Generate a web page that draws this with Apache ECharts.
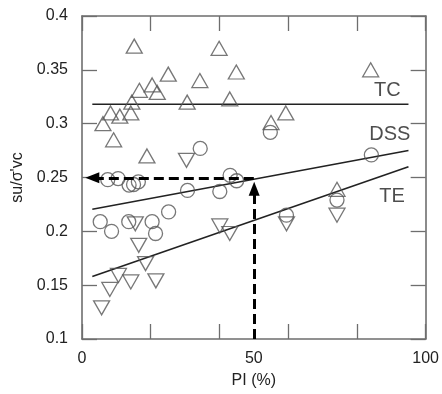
<!DOCTYPE html>
<html>
<head>
<meta charset="utf-8">
<script src="https://cdn.jsdelivr.net/npm/echarts@6/dist/echarts.min.js"></script>
<style>html,body{margin:0;padding:0;background:#fff}#c{width:442px;height:394px}</style>
</head>
<body>
<div id="c"></div>
<script>
// ---- data ----
var tcPoints = [[15.2,0.372],[39.9,0.370],[25.1,0.346],[44.9,0.348],[84.0,0.350],[34.3,0.340],[20.4,0.336],[16.7,0.331],[21.9,0.329],[14.5,0.320],[30.6,0.320],[43.0,0.323],[8.3,0.310],[11.0,0.307],[14.2,0.310],[59.3,0.310],[6.1,0.300],[55.0,0.301],[9.2,0.285],[18.9,0.270],[74.2,0.239]];
var dssPoints = [[7.5,0.248],[10.5,0.249],[13.7,0.243],[15.0,0.2435],[16.4,0.246],[5.3,0.209],[8.6,0.200],[13.6,0.209],[20.4,0.209],[21.4,0.198],[25.2,0.218],[30.7,0.238],[34.4,0.277],[40.1,0.237],[43.1,0.252],[45.0,0.247],[54.8,0.292],[59.5,0.215],[74.2,0.229],[84.2,0.271]];
var tePoints = [[5.7,0.129],[8.1,0.146],[10.6,0.159],[14.2,0.153],[21.5,0.154],[18.5,0.170],[16.5,0.187],[15.5,0.207],[30.4,0.266],[40.1,0.205],[43.0,0.198],[59.5,0.207],[74.2,0.215]];
var tcFit = [[3,0.318],[95,0.318]];
var dssFit = [[3,0.2205],[95,0.275]];
var teFit = [[3,0.158],[95,0.260]];
var curveNames = ['TC','DSS','TE'];
var curveLabelPos = [[85.0,0.331],[83.6,0.2896],[86.5,0.2325]];
var arrowH = [[50,0.2497],[3.0,0.2497]];
var arrowV = [[50.1,0.1],[50.1,0.2395]];
var xTicks = [0,50,100];
var yMin = 0.1, yMax = 0.4, yStep = 0.05;
var xMin = 0, xMax = 100;

var chart = echarts.init(document.getElementById('c'));
var axisGray = '#6e6e6e';
var txt = '#222';
var font = 'Liberation Sans, Arial, sans-serif';
var markerStyle = {color:'rgba(0,0,0,0)', borderColor:'#555', borderWidth:1.3};
var fitStyle = {color:'#222', width:1.6};

chart.setOption({
  animation:false,
  grid:{left:82,right:12,top:16,bottom:52},
  xAxis:[
    {type:'value',position:'bottom',min:xMin,max:xMax,interval:20,
     axisLine:{show:true,onZero:false,lineStyle:{color:axisGray,width:1.6}},
     axisTick:{show:true,inside:true,length:15,lineStyle:{color:axisGray,width:1.3}},
     axisLabel:{show:false},splitLine:{show:false}},
    {type:'value',position:'bottom',min:xMin,max:xMax,interval:50,
     axisLine:{show:false},axisTick:{show:false},splitLine:{show:false},
     axisLabel:{show:true,margin:12,fontSize:16,color:txt,fontFamily:font,
       formatter:function(v){return xTicks.indexOf(v)>=0?String(v):'';}},
     name:'PI (%)',nameLocation:'middle',nameGap:34,
     nameTextStyle:{fontSize:16,color:txt,fontFamily:font}},
    {type:'value',position:'top',min:xMin,max:xMax,interval:20,
     axisLine:{show:true,onZero:false,lineStyle:{color:axisGray,width:1.6}},
     axisTick:{show:true,inside:true,length:15,lineStyle:{color:axisGray,width:1.3}},
     axisLabel:{show:false},splitLine:{show:false}}
  ],
  yAxis:[
    {type:'value',position:'left',min:yMin,max:yMax,interval:yStep,
     axisLine:{show:true,onZero:false,lineStyle:{color:axisGray,width:1.6}},
     axisTick:{show:true,inside:true,length:15,lineStyle:{color:axisGray,width:1.3}},
     axisLabel:{show:true,margin:14,fontSize:16,color:txt,fontFamily:font},
     splitLine:{show:false},
     name:"su/σ'vc",nameLocation:'middle',nameGap:51,nameRotate:90,
     nameTextStyle:{fontSize:16,color:txt,fontFamily:font}},
    {type:'value',position:'right',min:yMin,max:yMax,interval:yStep,
     axisLine:{show:true,onZero:false,lineStyle:{color:axisGray,width:1.6}},
     axisTick:{show:true,inside:true,length:15,lineStyle:{color:axisGray,width:1.3}},
     axisLabel:{show:false},splitLine:{show:false}}
  ],
  series:[
    {type:'line',data:tcFit,symbol:'none',lineStyle:fitStyle,z:2},
    {type:'line',data:dssFit,symbol:'none',lineStyle:fitStyle,z:2},
    {type:'line',data:teFit,symbol:'none',lineStyle:fitStyle,z:2},
    {type:'scatter',data:tcPoints,symbol:'triangle',symbolSize:[16,14],itemStyle:markerStyle,z:3},
    {type:'scatter',data:dssPoints,symbol:'circle',symbolSize:14,itemStyle:markerStyle,z:3},
    {type:'scatter',data:tePoints,symbol:'triangle',symbolRotate:180,symbolSize:[16,14],itemStyle:markerStyle,z:3},
    {type:'scatter',data:curveLabelPos.map(function(p,i){return {value:p,name:curveNames[i]};}),
     symbolSize:0,z:4,
     label:{show:true,position:'right',distance:0,formatter:function(p){return p.name;},
       fontSize:20,color:txt,fontFamily:font}},
    {type:'line',data:[],symbol:'none',z:5,
     markLine:{silent:true,animation:false,symbol:['none','triangle'],symbolSize:[11,14],
       label:{show:false},
       lineStyle:{color:'#000',width:3,type:[10,5]},
       data:[
         [{coord:arrowH[0],symbol:'none'},{coord:arrowH[1],symbol:'triangle'}],
         [{coord:arrowV[0],symbol:'none'},{coord:arrowV[1],symbol:'triangle'}]
       ]}}
  ]
});
</script>
</body>
</html>
